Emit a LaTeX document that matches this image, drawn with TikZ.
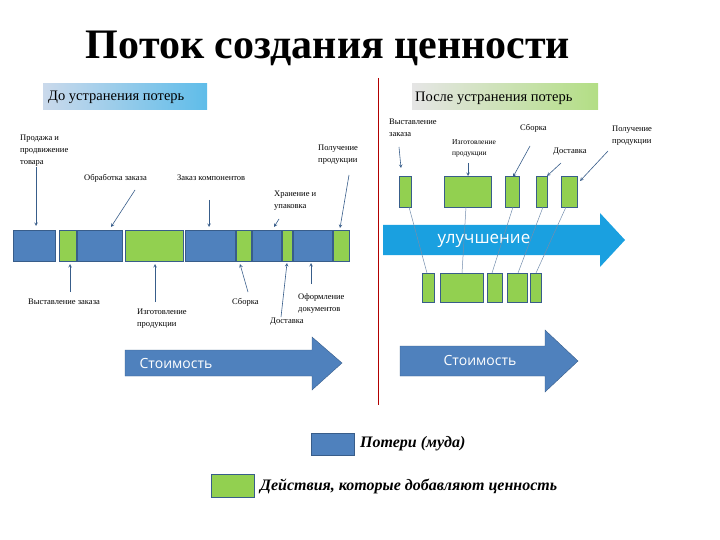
\documentclass[tikz,border=0pt]{standalone}
\usepackage{fontspec}
\setmainfont{Liberation Serif}
\newfontfamily\sans{Open Sans}
\definecolor{bl}{HTML}{4F81BD}
\definecolor{gr}{HTML}{92D050}
\definecolor{bd}{HTML}{385D8A}
\definecolor{cy}{HTML}{1AA0E0}
\begin{document}
\begin{tikzpicture}[x=1pt,y=-1pt,
  seg/.style={draw=bd,line width=0.8pt},
  b/.style={seg,fill=bl},
  g/.style={seg,fill=gr},
  lab/.style={font=\fontsize{8.5}{12}\selectfont,align=left,anchor=west,inner sep=0pt},
  ar/.style={->,>=stealth,draw=bd,line width=0.6pt},
  ln/.style={draw=bd!70,line width=0.5pt}]
\useasboundingbox (0,0) rectangle (720,540);
\node[font=\bfseries\fontsize{42}{44}\selectfont] (title) at (328,48) {Поток создания ценности};
\shade[left color=bl!30,right color=cy!70] (43,84) rectangle (207,110);
\node[font=\fontsize{14.5}{16}\selectfont,anchor=west,inner sep=0pt] (h1) at (48,97) {До устранения потерь};
\shade[left color=gray!20,right color=gr!70] (412,84) rectangle (598,110);
\node[font=\fontsize{14.5}{16}\selectfont,anchor=west,inner sep=0pt] (h2) at (415,98) {После устранения потерь};
\draw[red!70!black,line width=0.6pt] (378,78) -- (378,405);
% left bar
\foreach \a/\c/\s in {13/55/b,59/76/g,77/122/b,125/183/g,185/235/b,236/251/g,252/281/b,282/292/g,293/332/b,333/349/g}
  \path[\s] (\a,230) rectangle (\c,261);
% left labels
\node[lab] (l1) at (20,151) {Продажа и\\продвижение\\товара};
\draw[ar] (36,167) -- (36,226);
\node[lab] (l2) at (84,178) {Обработка заказа};
\draw[ar] (135,190) -- (111,227);
\node[lab] (l3) at (177,178) {Заказ компонентов};
\draw[ar] (209,200) -- (209,227);
\node[lab] (l4) at (274,201) {Хранение и\\упаковка};
\draw[ar] (279,219) -- (274,227);
\node[lab] (l5) at (318,155) {Получение\\продукции};
\draw[ar] (349,175) -- (340,228);
\node[lab] (l6) at (28,302) {Выставление заказа};
\draw[ar] (70,292) -- (70,264);
\node[lab] (l7) at (137,319) {Изготовление\\продукции};
\draw[ar] (155,302) -- (155,264);
\node[lab] (l8) at (232,302) {Сборка};
\draw[ar] (248,292) -- (240,264);
\node[lab] (l9) at (270,322) {Доставка};
\draw[ar] (281,317) -- (287,263);
\node[lab] (l10) at (298,303) {Оформление\\документов};
\draw[ar] (311,284) -- (311,263);
% cost arrows
\path[fill=bl,draw=bd] (125,350) -- (312,350) -- (312,337) -- (342,363) -- (312,390) -- (312,376) -- (125,376) -- cycle;
\node[white,font=\sans\fontsize{14}{16}\selectfont] (t1) at (176,363) {Стоимость};
\path[fill=bl,draw=bd] (400,346) -- (545,346) -- (545,330) -- (578,361) -- (545,392) -- (545,376) -- (400,376) -- cycle;
\node[white,font=\sans\fontsize{14}{16}\selectfont] (t2) at (480,360) {Стоимость};
% improvement arrow
\path[fill=cy] (383,225) -- (600,225) -- (600,213) -- (625,240) -- (600,267) -- (600,255) -- (383,255) -- cycle;
\node[white,font=\sans\fontsize{17}{18}\selectfont] (t3) at (484,241) {улучшение};
% right boxes
\foreach \a/\c in {399/411,444/491,505/519,536/547,561/577}
  \path[g] (\a,176) rectangle (\c,207);
\foreach \a/\c in {422/434,440/483,487/502,507/527,530/541}
  \path[g] (\a,273) rectangle (\c,302);
\draw[ln] (409,207) -- (427,273);
\draw[ln] (466,207) -- (462,273);
\draw[ln] (513,207) -- (492,273);
\draw[ln] (543,207) -- (518,273);
\draw[ln] (566,207) -- (536,273);
\node[lab] (r1) at (389,128) {Выставление\\заказа};
\draw[ar] (399,147) -- (401,168);
\node[lab,font=\fontsize{7.5}{11}\selectfont] (r2) at (452,148) {Изготовление\\продукции};
\draw[ar] (468,163) -- (468,176);
\node[lab] (r3) at (520,128) {Сборка};
\draw[ar] (530,146) -- (513,177);
\node[lab] (r4) at (553,152) {Доставка};
\draw[ar] (561,163) -- (547,176);
\node[lab] (r5) at (612,136) {Получение\\продукции};
\draw[ar] (608,151) -- (580,181);
% legend
\path[b] (311,433) rectangle (354,455);
\node[anchor=west,inner sep=0pt,font=\bfseries\itshape\fontsize{16}{18}\selectfont] (lg1) at (360,444) {Потери (муда)};
\path[g] (211,474) rectangle (254,497);
\node[anchor=west,inner sep=0pt,font=\bfseries\itshape\fontsize{16}{18}\selectfont] (lg2) at (260,486) {Действия, которые добавляют ценность};
\end{tikzpicture}
\end{document}
